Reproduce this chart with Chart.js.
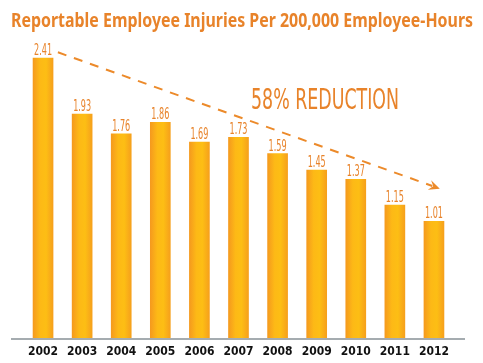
<!DOCTYPE html>
<html>
<head>
<meta charset="utf-8">
<script src="https://cdn.jsdelivr.net/npm/chart.js@4/dist/chart.umd.min.js"></script>
<style>
  body { margin: 0; background: #fff; }
  #wrap { width: 483px; height: 363px; }
</style>
</head>
<body>
<div id="wrap"><canvas id="injuryChart"></canvas></div>
<script>
const years = ["2002","2003","2004","2005","2006","2007","2008","2009","2010","2011","2012"];
const injuries = [2.41, 1.93, 1.76, 1.86, 1.69, 1.73, 1.59, 1.45, 1.37, 1.15, 1.01];
const titleText = "Reportable Employee Injuries Per 200,000 Employee-Hours";
const noteText = "58% REDUCTION";
// trend arrow ends, in data units (category index, value)
const trendStart = [0.38, 2.46];
const trendEnd = [10.15, 1.29];

const orange = "#E8832A";
const narrow = "'DejaVu Sans Condensed', sans-serif";

function barGradient(c) {
    const chart = c.chart;
    const xs = chart.scales.x;
    if (!xs || !chart.chartArea) return "#FDB813";
    const cx = xs.getPixelForValue(c.dataIndex);
    const g = chart.ctx.createLinearGradient(cx - 10, 0, cx + 10, 0);
    g.addColorStop(0, "#F59A1E");
    g.addColorStop(0.35, "#FDB916");
    g.addColorStop(0.65, "#FDBE14");
    g.addColorStop(1, "#F6A01C");
    return g;
}

const extras = {
    id: "extras",
    afterDraw(chart) {
        const ctx = chart.ctx;
        const xs = chart.scales.x, ys = chart.scales.y;
        ctx.save();

        // title
        ctx.fillStyle = orange;
        ctx.font = "bold 19px 'Noto Sans', sans-serif";
        ctx.textAlign = "center";
        ctx.textBaseline = "alphabetic";
        ctx.fillText(titleText, 242, 27, 462);

        // baseline
        const y0 = ys.getPixelForValue(0);
        ctx.strokeStyle = "#A5ACB0";
        ctx.lineWidth = 2;
        ctx.beginPath();
        ctx.moveTo(11, y0);
        ctx.lineTo(465, y0);
        ctx.stroke();

        // value labels
        ctx.fillStyle = orange;
        ctx.font = "15px " + narrow;
        injuries.forEach((v, i) => {
            const x = xs.getPixelForValue(i);
            const y = ys.getPixelForValue(v);
            ctx.fillText(v.toFixed(2), x, y - 3, 18);
        });

        // reduction note
        ctx.font = "29px " + narrow;
        ctx.textAlign = "left";
        ctx.fillText(noteText, 251, 109, 148);

        // dashed trend arrow
        const x1 = xs.getPixelForValue(trendStart[0]);
        const y1 = ys.getPixelForValue(trendStart[1]);
        const x2 = xs.getPixelForValue(trendEnd[0]);
        const y2 = ys.getPixelForValue(trendEnd[1]);
        const ang = Math.atan2(y2 - y1, x2 - x1);
        const cs = Math.cos(ang), sn = Math.sin(ang);
        ctx.strokeStyle = "#EC8A2A";
        ctx.lineWidth = 2;
        ctx.setLineDash([9, 8]);
        ctx.beginPath();
        ctx.moveTo(x1, y1);
        ctx.lineTo(x2 - 8 * cs, y2 - 8 * sn);
        ctx.stroke();
        ctx.setLineDash([]);
        ctx.fillStyle = "#EC8A2A";
        ctx.beginPath();
        ctx.moveTo(x2, y2);
        ctx.lineTo(x2 - 11 * cs + 5 * sn, y2 - 11 * sn - 5 * cs);
        ctx.lineTo(x2 - 7 * cs, y2 - 7 * sn);
        ctx.lineTo(x2 - 11 * cs - 5 * sn, y2 - 11 * sn + 5 * cs);
        ctx.closePath();
        ctx.fill();

        ctx.restore();
    }
};

new Chart(document.getElementById("injuryChart"), {
    type: "bar",
    data: {
        labels: years,
        datasets: [{
            data: injuries,
            backgroundColor: barGradient,
            barThickness: 20,
            borderWidth: 0
        }]
    },
    options: {
        responsive: true,
        maintainAspectRatio: false,
        animation: false,
        layout: { padding: { left: 23.5, right: 29.5, top: 36, bottom: -2 } },
        plugins: { legend: { display: false }, tooltip: { enabled: false } },
        scales: {
            x: {
                grid: { display: false, drawTicks: false },
                border: { display: false },
                ticks: {
                    color: "#111",
                    font: { family: narrow, size: 12, weight: "bold", lineHeight: 1 },
                    padding: 7,
                    maxRotation: 0,
                    autoSkip: false
                }
            },
            y: {
                display: false,
                min: 0,
                max: 2.6
            }
        }
    },
    plugins: [extras]
});
</script>
</body>
</html>
